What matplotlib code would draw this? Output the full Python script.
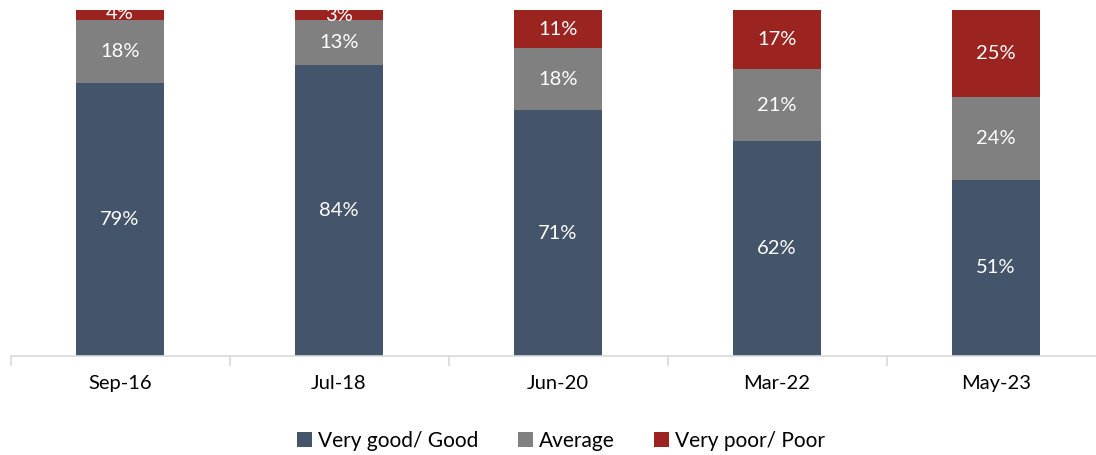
import numpy as np
import matplotlib.pyplot as plt
from matplotlib.patches import Patch

# survey waves and rating shares (%)
waves = ["Sep-16", "Jul-18", "Jun-20", "Mar-22", "May-23"]
good = [79, 84, 71, 62, 51]
average = [18, 13, 18, 21, 24]
poor = [4, 3, 11, 17, 25]

series_names = ["Very good/ Good", "Average", "Very poor/ Poor"]
colors = ["#44546A", "#808080", "#9B2420"]

plt.rcParams['font.family'] = ['Lato', 'DejaVu Sans']

fig = plt.figure(figsize=(10.96, 4.55), dpi=100)
# axes runs a little past the right edge of the figure
ax = fig.add_axes([10.5 / 1096, 1 - 356 / 455, 1095 / 1096, 346 / 455])

x = np.arange(len(waves))
bottom = np.zeros(len(waves))
for vals, col in zip([good, average, poor], colors):
    vals = np.array(vals, dtype=float)
    ax.bar(x, vals, width=0.4, bottom=bottom, color=col, zorder=2)
    for xi, b, v in zip(x, bottom, vals):
        ax.text(xi, b + v / 2, f"{int(v)}%", ha="center", va="center",
                color="white", fontsize=14.5, zorder=3, clip_on=True)
    bottom += vals

ax.set_xlim(-0.5, len(waves) - 0.5)
ax.set_ylim(0, 100)
for s in ["top", "right", "left"]:
    ax.spines[s].set_visible(False)
ax.spines["bottom"].set_color("#D9D9D9")
ax.spines["bottom"].set_linewidth(1.2)
ax.set_yticks([])
ax.set_xticks(x)
ax.set_xticklabels(waves, fontsize=14.5, color="#000000")
ax.tick_params(axis="x", which="major", length=0, pad=14)
ax.set_xticks(np.arange(-0.5, len(waves)), minor=True)
ax.tick_params(axis="x", which="minor", length=7, color="#D9D9D9", width=1.2)

handles = [Patch(facecolor=c, label=n) for c, n in zip(colors, series_names)]
fig.legend(handles=handles, loc="center", bbox_to_anchor=(0.512, 1 - 441 / 455),
           ncol=3, frameon=False, fontsize=15, handlelength=0.7,
           handleheight=0.7, handletextpad=0.3, columnspacing=1.9)

fig.savefig("out.png", dpi=100)
